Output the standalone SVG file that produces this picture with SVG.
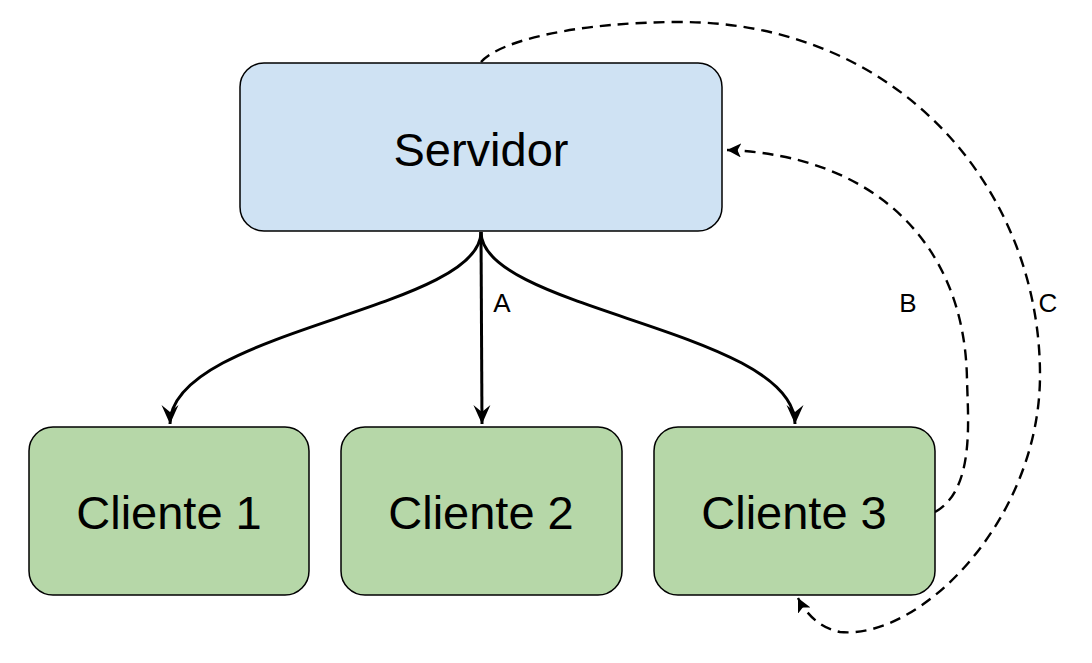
<svg xmlns="http://www.w3.org/2000/svg" width="1092" height="663" viewBox="0 0 1092 663">
<style>
.node rect{stroke:#000;stroke-width:1.5}
.srv rect{fill:#cfe2f3}
.cli rect{fill:#b6d7a8}
.node text{font-family:"Liberation Sans",Arial,sans-serif;font-size:47px;fill:#000;text-anchor:middle;dominant-baseline:central}
.lbl{font-family:"Liberation Sans",Arial,sans-serif;font-size:26px;fill:#000;text-anchor:middle;dominant-baseline:central}
.solid{fill:none;stroke:#000;stroke-width:3}
.dash{fill:none;stroke:#000;stroke-width:2.4;stroke-dasharray:11 7}
</style>
<defs>
<marker id="open" markerUnits="userSpaceOnUse" markerWidth="30" markerHeight="30" refX="20" refY="10" orient="auto">
<path d="M20,10 L1,1.5 L8,10 L1,18.5 Z" fill="#000"/>
</marker>
<marker id="blk" markerUnits="userSpaceOnUse" markerWidth="20" markerHeight="20" refX="14" refY="7" orient="auto">
<path d="M14,7 L0,0 L3.5,7 L0,14 Z" fill="#000"/>
</marker>
</defs>
<g id="connectors">
<path class="solid" d="M481,232 C481,310 170,330 170,424" marker-end="url(#open)"/>
<path class="solid" d="M481,232 L482,424" marker-end="url(#open)"/>
<path class="solid" d="M481,232 C481,310 795,330 795,424" marker-end="url(#open)"/>
<path class="dash" d="M935,512 C975,490 968,420 967,380 C965,240 870,155 727,150" marker-end="url(#blk)"/>
<path class="dash" d="M481,62 C500,40 580,22 680,22 C900,22 1040,190 1040,375 C1040,520 920,640 840,632 C820,628 806,614 798,598" marker-end="url(#blk)"/>
<text class="lbl" x="502" y="303">A</text>
<text class="lbl" x="908" y="303">B</text>
<text class="lbl" x="1048" y="303">C</text>
</g>
<g id="servidor" class="node srv">
<rect x="240" y="63" width="482" height="168" rx="24"/>
<text x="481" y="149">Servidor</text>
</g>
<g id="cliente1" class="node cli">
<rect x="29" y="427" width="280" height="168" rx="24"/>
<text x="169" y="512">Cliente 1</text>
</g>
<g id="cliente2" class="node cli">
<rect x="341" y="427" width="281" height="168" rx="24"/>
<text x="481" y="512">Cliente 2</text>
</g>
<g id="cliente3" class="node cli">
<rect x="654" y="427" width="281" height="168" rx="24"/>
<text x="794" y="512">Cliente 3</text>
</g>
</svg>
